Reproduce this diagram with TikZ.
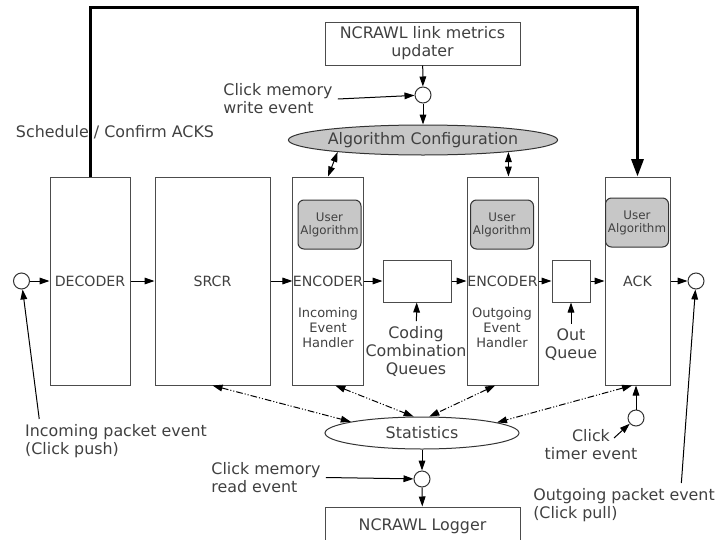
\documentclass[tikz,border=0pt]{standalone}
\usepackage{fontspec}
\setmainfont{DejaVu Sans}
\usepackage{tikz}
\usetikzlibrary{shapes.geometric}
\usetikzlibrary{arrows.meta}

\begin{document}
\begin{tikzpicture}[x=0.75pt,y=-0.75pt,
  every node/.style={text=black!75},
  lbl/.style={font=\fontsize{11.9}{13.5}\selectfont,align=center,inner sep=0pt,outer sep=4pt},
  blk/.style={rectangle,draw=black!70,line width=0.75pt,inner sep=0pt,font=\fontsize{10.6}{12}\selectfont},
  usr/.style={rectangle,rounded corners=4.5pt,draw=black!80,fill=black!22,line width=0.75pt,minimum width=47.25pt,minimum height=36.75pt,align=center,inner sep=0pt,font=\fontsize{8.9}{9.75}\selectfont},
  evh/.style={align=center,inner sep=0pt,font=\fontsize{9.75}{11.25}\selectfont},
  evt/.style={circle,draw=black!80,line width=0.75pt,minimum size=12pt,inner sep=0pt},
  oval/.style={ellipse,draw=black!80,line width=0.75pt,inner sep=0pt,font=\fontsize{11.9}{13.5}\selectfont},
  arr/.style={-{Triangle[length=7.5pt,width=5pt]},line width=0.75pt},
  ctl/.style={{Triangle[length=7.5pt,width=5pt]}-{Triangle[length=7.5pt,width=5pt]},line width=0.75pt,dash pattern=on 5pt off 1.5pt on 0.8pt off 1.5pt on 0.8pt off 1.5pt},
  ackline/.style={-{Triangle[length=13pt,width=9pt]},line width=2.25pt}]
\useasboundingbox (0,0) rectangle (717,539);
% processing blocks
\path (90,281) node(dec)[blk,minimum width=60pt,minimum height=156pt]{DECODER}
(212.5,281) node(srcr)[blk,minimum width=86.25pt,minimum height=156pt]{SRCR}
(328,281) node(enc1)[blk,minimum width=52.5pt,minimum height=156pt]{ENCODER}
(417,281) node(cq)[blk,minimum width=51pt,minimum height=31.5pt]{}
(502.5,281) node(enc2)[blk,minimum width=53.25pt,minimum height=156pt]{ENCODER}
(571,281) node(oq)[blk,minimum width=28.5pt,minimum height=31.5pt]{}
(637.5,281) node(ack)[blk,minimum width=48.75pt,minimum height=156pt]{ACK}
(422.5,43.5) node(upd)[blk,minimum width=146.25pt,minimum height=32.25pt,align=center,font=\fontsize{11.9}{13.5}\selectfont]{NCRAWL link metrics\\updater}
(422.5,526) node(log)[blk,minimum width=146.25pt,minimum height=28.5pt,font=\fontsize{11.9}{13.5}\selectfont]{NCRAWL Logger};
\path (329.5,224.5) node(ua1)[usr]{User\\Algorithm}
(502,224.5) node(ua2)[usr]{User\\Algorithm}
(637,222.5) node(ua3)[usr]{User\\Algorithm}
(328,328) node(eh1)[evh]{Incoming\\Event\\Handler}
(502,328) node(eh2)[evh]{Outgoing\\Event\\Handler};
\path (423,140) node(alg)[oval,fill=black!22,minimum width=163.5pt,minimum height=22.5pt]{Algorithm Configuration}
(422,433) node(stats)[oval,minimum width=145.5pt,minimum height=24pt]{Statistics};
% event points
\path (21.5,281) node(cin)[evt]{}
(696,281) node(cout)[evt]{}
(423,95) node(wc)[evt]{}
(422,479) node(rc)[evt]{}
(636,418) node(tc)[evt]{};
% labels
\path (115,132) node(sched)[lbl]{Schedule / Confirm ACKS}
(278,99) node(wtext)[lbl,align=left]{Click memory\\write event}
(266,477.5) node(rtext)[lbl,align=left]{Click memory\\read event}
(116,441) node(intext)[lbl,align=left]{Incoming packet event\\(Click push)}
(624,505) node(outtext)[lbl,align=left]{Outgoing packet event\\(Click pull)}
(591,445) node(ttext)[lbl]{Click\\timer event}
(416,351.5) node(cqtext)[lbl]{Coding\\Combination\\Queues}
(571,345) node(oqtext)[lbl]{Out\\Queue};
\coordinate (top) at (360,7);
\coordinate (tstart) at (614,438);
% data path
\draw[arr] (cin) -- (dec);
\draw[arr] (dec) -- (srcr);
\draw[arr] (srcr) -- (enc1);
\draw[arr] (enc1) -- (cq);
\draw[arr] (cq) -- (enc2);
\draw[arr] (enc2) -- (oq);
\draw[arr] (oq) -- (ack);
\draw[arr] (ack) -- (cout);
\draw[ackline] (dec.north) |- (top) -| (ack.north);
% events
\draw[arr] (upd) -- (wc);
\draw[arr] (wc) -- (alg);
\draw[arr] (wtext.east) -- (wc);
\draw[arr] (stats) -- (rc);
\draw[arr] (rc) -- (log);
\draw[arr] (rtext.east) -- (rc);
\draw[arr] (tc) -- (tc |- ack.south);
\draw[arr] (tstart) -- (tc);
\draw[arr] (intext.164) -- (cin);
\draw[arr] (outtext.21) -- (cout);
\draw[arr] (cqtext) -- (cq);
\draw[arr] (oqtext) -- (oq);
% configuration and statistics
\draw[ctl] (alg.-172) -- (enc1.north);
\draw[ctl] (alg.-8) -- (alg.-8 |- enc2.north);
\draw[ctl] (srcr.south) -- (stats.171);
\draw[ctl] (enc1.-86) -- (stats.117);
\draw[ctl] (enc2.-94) -- (stats.66);
\draw[ctl] (ack.-93) -- (stats.8);
\end{tikzpicture}
\end{document}
